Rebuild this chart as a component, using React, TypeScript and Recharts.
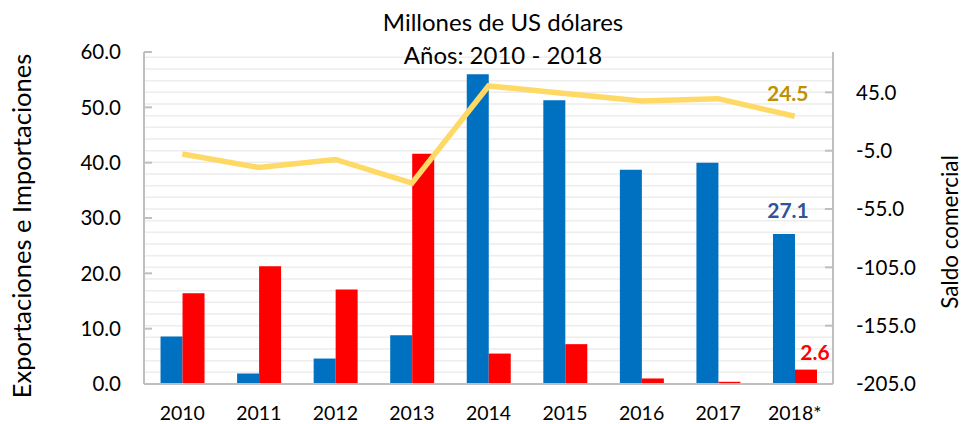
import React from 'react';
import { ComposedChart, Bar, Line, XAxis, YAxis, CartesianGrid, LabelList } from 'recharts';

const years = ['2010', '2011', '2012', '2013', '2014', '2015', '2016', '2017', '2018*'];
const exportaciones = [8.6, 1.9, 4.6, 8.8, 56.0, 51.3, 38.7, 40.0, 27.1];
const importaciones = [16.4, 21.3, 17.1, 41.6, 5.5, 7.2, 1.0, 0.4, 2.6];
const saldo = [-7.8, -19.4, -12.5, -32.8, 50.5, 44.1, 37.7, 39.6, 24.5];

const leftTicks = [0, 10, 20, 30, 40, 50, 60];
const rightTicks = [-205, -155, -105, -55, -5, 45];
const gridValues: number[] = [];
for (let v = -205; v <= 79; v += 10) gridValues.push(v);

const data = years.map((year, i) => ({
    year,
    exp: exportaciones[i],
    imp: importaciones[i],
    saldo: saldo[i],
}));

const FONT = 'Lato, "Open Sans", sans-serif';
const AXIS = '#BFBFBF';
const last = years.length - 1;

const LeftTick = (props: any) => {
    const { x, y, payload } = props;
    return (
        <g>
            <line x1={x + 23} x2={x + 31} y1={y} y2={y} stroke={AXIS} strokeWidth={2} />
            <text x={x} y={y} dy="0.36em" textAnchor="end" fontSize={20.5} fill="#000" fontFamily={FONT}>
                {Number(payload.value).toFixed(1)}
            </text>
        </g>
    );
};

const RightTick = (props: any) => {
    const { x, y, payload } = props;
    return (
        <g>
            <line x1={x - 23} x2={x - 31} y1={y} y2={y} stroke={AXIS} strokeWidth={2} />
            <text x={x} y={y} dy="0.36em" textAnchor="start" fontSize={20.5} fill="#000" fontFamily={FONT}>
                {Number(payload.value).toFixed(1)}
            </text>
        </g>
    );
};

const lastLabel = (color: string, dx: number, dy: number) => (props: any) => {
    const { x, y, width, index, value } = props;
    if (index !== last) return null;
    const cx = width ? x + width / 2 : x;
    return (
        <text x={cx + dx} y={y + dy} textAnchor="middle" fontSize={21} fontWeight="bold" fill={color} fontFamily={FONT}>
            {Number(value).toFixed(1)}
        </text>
    );
};

export default function App() {
    return (
        <div style={{ position: 'absolute', left: 0, top: 0, width: 962, height: 424, background: '#fff', fontFamily: FONT }}>
            <ComposedChart
                width={962}
                height={424}
                data={data}
                margin={{ top: 52, right: 49, bottom: 10, left: 64 }}
                barGap={0}
                barCategoryGap="21.6%"
            >
                <CartesianGrid
                    yAxisId="right"
                    vertical={false}
                    horizontalValues={gridValues}
                    stroke="#EDEDED"
                    strokeWidth={1.5}
                />
                <XAxis
                    dataKey="year"
                    tickLine={false}
                    tickSize={0}
                    tickMargin={22}
                    height={30}
                    stroke={AXIS}
                    strokeWidth={2}
                    tick={{ fontSize: 19.5, fill: '#000', fontFamily: FONT }}
                />
                <YAxis
                    yAxisId="left"
                    domain={[0, 60]}
                    ticks={leftTicks}
                    width={80}
                    tickLine={false}
                    tickSize={0}
                    tickMargin={23}
                    stroke={AXIS}
                    strokeWidth={2}
                    tick={<LeftTick />}
                    interval={0}
                />
                <YAxis
                    yAxisId="right"
                    orientation="right"
                    domain={[-205, 79.6]}
                    allowDataOverflow
                    ticks={rightTicks}
                    width={80}
                    tickLine={false}
                    tickSize={0}
                    tickMargin={23}
                    stroke={AXIS}
                    strokeWidth={2}
                    tick={<RightTick />}
                    interval={0}
                />
                <Bar yAxisId="left" dataKey="exp" fill="#0070C0" isAnimationActive={false}>
                    <LabelList dataKey="exp" content={lastLabel('#2F5597', 4, -16)} />
                </Bar>
                <Bar yAxisId="left" dataKey="imp" fill="#FF0000" isAnimationActive={false}>
                    <LabelList dataKey="imp" content={lastLabel('#FF0000', 9, -10)} />
                </Bar>
                <Line
                    yAxisId="right"
                    dataKey="saldo"
                    stroke="#FFD966"
                    strokeWidth={5.5}
                    dot={false}
                    activeDot={false}
                    isAnimationActive={false}
                >
                    <LabelList dataKey="saldo" content={lastLabel('#BF9000', -7, -15)} />
                </Line>
            </ComposedChart>
            <div style={{ position: 'absolute', left: 303, width: 400, top: 5, textAlign: 'center', fontSize: 24, lineHeight: '33px', zIndex: 2 }}>
                <div>Millones de US dólares</div>
                <div>Años: 2010 - 2018</div>
            </div>
            <div style={{ position: 'absolute', left: 21, top: 226, width: 420, marginLeft: -210, textAlign: 'center', fontSize: 25.5, lineHeight: '28px', marginTop: -14, transform: 'rotate(-90deg)' }}>
                Exportaciones e Importaciones
            </div>
            <div style={{ position: 'absolute', left: 950, top: 232, width: 300, marginLeft: -150, textAlign: 'center', fontSize: 22.5, lineHeight: '26px', marginTop: -13, transform: 'rotate(-90deg)' }}>
                Saldo comercial
            </div>
        </div>
    );
}
